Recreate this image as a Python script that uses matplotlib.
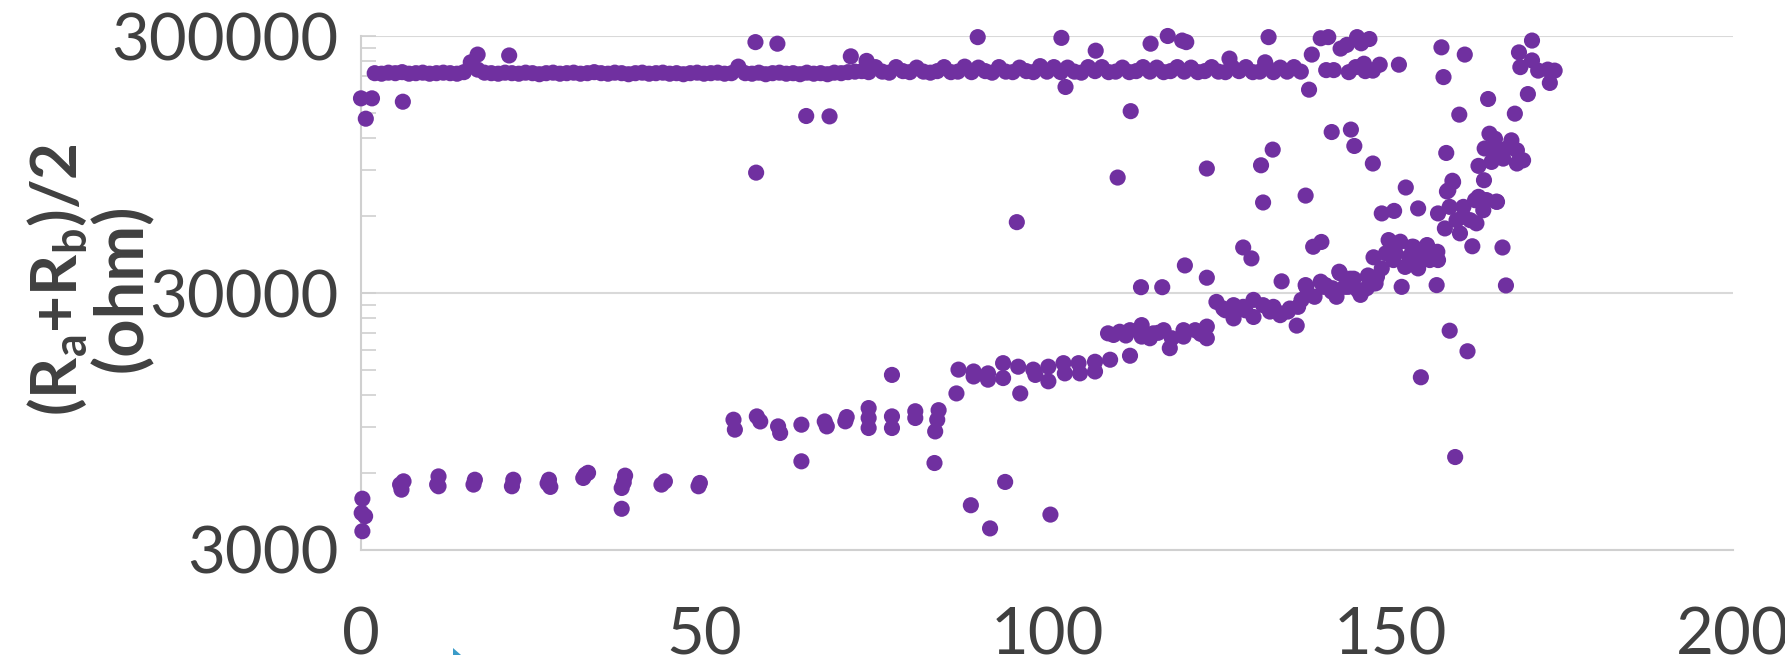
import matplotlib.pyplot as plt
from matplotlib.patches import Polygon
from matplotlib.ticker import FixedLocator, NullFormatter

plt.rcParams['font.family'] = ['Lato', 'DejaVu Sans']
plt.rcParams['mathtext.fontset'] = 'custom'
plt.rcParams['mathtext.rm'] = 'Lato:bold'

PURPLE = '#7030A0'
GREY_TXT = '#404040'
GREY_LN = '#D9D9D9'

# upper plateau of readings, one per sample index
hi_x = [2, 3, 4, 5, 6, 7, 8, 9, 10, 11, 12, 13, 14, 15, 16, 17, 18, 19, 20, 21,
        22, 23, 24, 25, 26, 27, 28, 29, 30, 31, 32, 33, 34, 35, 36, 37, 38, 39, 40, 41,
        42, 43, 44, 45, 46, 47, 48, 49, 50, 51, 52, 53, 54, 55, 56, 57, 58, 59, 60, 61,
        62, 63, 64, 65, 66, 67, 68, 69, 70, 71, 72, 73, 74, 75, 76, 77, 78, 79, 80, 81,
        82, 83, 84, 85, 86, 87, 88, 89, 90, 91, 92, 93, 94, 95, 96, 97, 98, 99, 100, 101,
        102, 103, 104, 105, 106, 107, 108, 109, 110, 111, 112, 113, 114, 115, 116, 117, 118, 119, 120, 121,
        122, 123, 124, 125, 126, 127, 128, 129, 130, 131, 132, 133, 134, 135, 136, 137]
hi_y = [215e3, 214e3, 216e3, 215e3, 217e3, 214e3, 215e3, 216e3, 214e3, 215e3, 216e3, 215e3, 214e3, 217e3, 237e3, 222e3, 216e3, 215e3, 214e3, 216e3,
        215e3, 214e3, 216e3, 215e3, 213e3, 215e3, 216e3, 214e3, 215e3, 216e3, 214e3, 215e3, 217e3, 215e3, 214e3, 216e3, 215e3, 213e3, 215e3, 216e3,
        214e3, 215e3, 216e3, 214e3, 215e3, 213e3, 215e3, 216e3, 214e3, 215e3, 216e3, 214e3, 215e3, 228e3, 215e3, 214e3, 216e3, 213e3, 215e3, 216e3,
        214e3, 215e3, 213e3, 216e3, 214e3, 215e3, 213e3, 216e3, 215e3, 217e3, 218e3, 219e3, 217e3, 227e3, 218e3, 216e3, 227e3, 219e3, 217e3, 226e3,
        218e3, 216e3, 219e3, 227e3, 217e3, 218e3, 228e3, 217e3, 226e3, 219e3, 216e3, 227e3, 218e3, 217e3, 226e3, 219e3, 217e3, 229e3, 218e3, 227e3,
        217e3, 226e3, 218e3, 216e3, 227e3, 219e3, 227e3, 217e3, 218e3, 226e3, 217e3, 219e3, 227e3, 218e3, 226e3, 217e3, 219e3, 227e3, 218e3, 226e3,
        217e3, 219e3, 227e3, 218e3, 217e3, 227e3, 219e3, 227e3, 217e3, 218e3, 228e3, 217e3, 226e3, 218e3, 227e3, 218e3]

# lower branch, rising in steps
lo_x = [0.2, 0.1, 0.6, 0.2,
        5.7, 6.2, 5.9, 11.3, 11.1, 11.3, 16.6, 16.4, 22.2, 22.0, 27.4, 27.6, 27.2,
        32.7, 33.1, 32.4, 38.5, 38.0, 38.0, 38.3, 43.8, 44.3, 49.2, 49.4,
        54.3, 54.5, 57.7, 58.2, 60.8, 61.1, 64.2, 64.2, 67.6, 67.9, 70.8, 70.6,
        74.0, 74.0, 74.0, 77.4, 77.4, 77.4, 80.8, 80.8, 84.2, 84.0, 83.7, 83.6,
        87.1, 86.8, 89.3, 91.4, 93.6, 93.6, 95.8, 98.0, 100.2, 100.2, 102.4, 102.6,
        104.6, 104.8, 107.0, 107.0, 96.1, 109.2, 112.1, 89.3, 91.4, 98.3,
        108.9, 110.6, 112.1, 113.8, 113.8, 115.5, 117.0, 118.2, 119.9, 119.9,
        121.6, 123.3, 123.3, 117.9, 115.0, 109.7, 111.5, 116.2, 122.4,
        124.7, 125.7, 127.2, 127.2, 128.6, 130.1, 130.1, 131.5, 132.5, 133.0,
        133.9, 135.4, 136.6, 134.0, 126.0, 128.9, 135.1, 136.4,
        137.1, 137.8, 139.0, 140.3, 141.5, 142.2, 143.4, 144.6, 145.6, 146.6,
        147.6, 148.1, 137.7, 140.6, 142.0, 143.9, 145.3, 146.8, 147.9, 145.7,
        142.6, 144.2, 134.2, 139.9, 141.6, 142.7, 144.7, 146.8,
        151.7, 156.8, 166.9,
        149.8, 151.5, 153.2, 155.4, 156.9, 147.6, 148.8, 150.5, 152.2, 154.1,
        155.8, 157.0, 149.4, 152.8, 154.7, 150.8, 153.4, 138.8, 140.0,
        157.0, 158.0, 158.7, 160.2, 160.7, 162.4, 163.6, 162.6, 161.7, 160.7,
        164.1, 159.7, 163.9, 165.6, 162.9, 158.5, 159.2, 163.7, 162.9, 158.3,
        159.1, 165.5, 162.0, 166.4,
        164.5, 165.3, 167.7, 163.8, 165.5, 167.0, 168.5, 164.8, 166.5, 169.4,
        168.5, 158.2]
lo_y = [4750, 4180, 4060, 3550,
        5390, 5550, 5150, 5800, 5390, 5310, 5630, 5390, 5630, 5310, 5630, 5280, 5450,
        5890, 5990, 5720, 5840, 5230, 4340, 5500, 5390, 5550, 5310, 5470,
        9640, 8820, 9930, 9490, 9080, 8560, 9220, 6640, 9490, 9080, 9870, 9500,
        10700, 9790, 8950, 14400, 9930, 8950, 10400, 9790, 10500, 9640, 8680, 6540,
        15100, 12200, 14850, 14600, 16000, 14000, 15500, 15100, 15500, 13600, 16000, 14600,
        16000, 14600, 16200, 14850, 12200, 16500, 17100, 14200, 13800, 14400,
        20900, 21200, 21500, 22500, 20300, 20900, 21500, 20000, 21500, 20300,
        21500, 22200, 20000, 18300, 20000, 20600, 20500, 21000, 20800,
        27700, 26100, 26900, 23900, 26500, 28200, 24200, 26900, 25400, 26500,
        25000, 26100, 26500, 24600, 25700, 25700, 25400, 22400,
        28200, 31700, 29000, 31700, 30400, 29000, 31700, 33700, 30400, 31300,
        32700, 34700, 32200, 32200, 30000, 31700, 30800, 34700, 32700, 29500,
        36300, 34100, 33300, 33200, 31300, 35800, 34100, 35100,
        31700, 32200, 32100,
        48200, 47500, 45400, 46100, 43400, 41300, 37400, 40300, 37900, 37400,
        40300, 40300, 42800, 41500, 41500, 42800, 45400, 45400, 47400,
        61200, 53500, 64900, 51200, 59400, 68900, 63000, 56000, 57600, 64900,
        68900, 57600, 68900, 67900, 71000, 75300, 81100, 82400, 93700, 74500,
        82000, 68000, 45600, 45100,
        125000, 119500, 117800, 109500, 106200, 109500, 107700, 97100, 100000, 98500,
        95700, 105200]

# scattered readings away from the two branches
sc_x = [0.0, 1.6, 0.7, 6.1, 17.0, 21.6, 57.5, 60.7, 57.6, 64.9, 68.3, 71.4, 73.7,
        89.9, 102.1, 102.7, 107.1, 95.6, 110.3, 112.2, 115.1, 117.6, 119.7, 120.3,
        123.3, 126.6, 132.3, 131.8,
        88.9, 91.7, 93.9, 100.5,
        113.7, 116.8, 120.1, 123.3, 128.6, 129.8,
        158.7, 161.3, 154.5, 159.5,
        131.2, 132.9, 131.5, 137.7, 138.2, 141.5, 144.3, 144.8, 147.5, 152.3, 154.1, 148.8, 150.6,
        157.5, 157.8, 160.9, 160.1, 164.3, 168.2, 170.1, 170.7, 168.8, 169.0, 170.7, 171.6,
        173.0, 174.0, 173.3,
        138.6, 139.9, 141.0, 140.7, 141.8, 142.8, 143.7, 145.2, 145.8, 147.0, 144.0, 145.0,
        146.2, 146.4, 147.5, 148.5, 151.3]
sc_y = [171600, 171600, 143000, 166500, 254000, 252000, 284000, 280000, 88200, 146500, 146000, 250000, 240000,
        297000, 295000, 190000, 263000, 56600, 84400, 153000, 280000, 300000, 288000, 284000,
        91500, 245000, 297000, 237000,
        4480, 3640, 5520, 4120,
        31600, 31600, 38400, 34400, 45100, 40900,
        21400, 17800, 14100, 6900,
        94200, 108400, 67500, 71800, 185500, 126900, 129700, 112000, 95700, 77200, 64000, 61200, 62600,
        271000, 207600, 254000, 148300, 170600, 149600, 178300, 288000, 259000, 227000, 241000, 220000,
        222000, 220000, 197000,
        254000, 294000, 297000, 221000, 221000, 268000, 277000, 297000, 281000, 292000, 217000, 227000,
        234000, 219000, 220000, 232000, 232000]

x_ticks = [0, 50, 100, 150, 200]
y_major = [3000, 30000, 300000]
y_minor = [6000, 9000, 12000, 15000, 18000, 21000, 24000, 27000,
           60000, 90000, 120000, 150000, 180000, 210000, 240000, 270000]

fig = plt.figure(figsize=(17.85, 6.55), dpi=100)
ax = fig.add_axes([361 / 1785, 1 - 550 / 655, (1733 - 361) / 1785, (550 - 36) / 655])

for xs, ys in [(hi_x, hi_y), (lo_x, lo_y), (sc_x, sc_y)]:
    ax.scatter(xs, ys, s=135, color=PURPLE, edgecolors='none', zorder=3, clip_on=False)

ax.set_yscale('log')
ax.set_xlim(0, 200)
ax.set_ylim(3000, 300000)

ax.yaxis.set_major_locator(FixedLocator(y_major))
ax.yaxis.set_minor_locator(FixedLocator(y_minor))
ax.yaxis.set_minor_formatter(NullFormatter())
ax.set_yticklabels([str(v) for v in y_major])
ax.set_xticks(x_ticks)
ax.set_xticklabels([str(v) for v in x_ticks])

ax.grid(True, axis='y', which='major', color=GREY_LN, linewidth=1.5, zorder=0)
ax.set_axisbelow(True)

for side in ['top', 'right']:
    ax.spines[side].set_visible(False)
for side in ['left', 'bottom']:
    ax.spines[side].set_color('#D0D0D0')
    ax.spines[side].set_linewidth(1.5)

ax.tick_params(axis='y', which='both', direction='in', length=10.5, width=1.2,
               color='#D0D0D0', labelsize=47, labelcolor=GREY_TXT, pad=16)
ax.tick_params(axis='x', which='both', length=0, labelsize=47,
               labelcolor=GREY_TXT, pad=41)

# two-line axis title, one text per line
fig.text(57 / 1785, 1 - 280 / 655, '(R$_\\mathrm{a}$+R$_\\mathrm{b}$)/2',
         rotation=90, ha='center', va='center',
         fontsize=46, fontweight='bold', color=GREY_TXT)
fig.text(122 / 1785, 1 - 288 / 655, '(ohm)',
         rotation=90, ha='center', va='center',
         fontsize=48, fontweight='bold', color=GREY_TXT)

# small pointer tip at the lower edge
fig.patches.append(Polygon([[453 / 1785, 7 / 655], [453 / 1785, 0], [461 / 1785, 0]],
                           closed=True, transform=fig.transFigure,
                           facecolor='#3A9BC8', edgecolor='none'))

fig.savefig('out.png', dpi=100)
